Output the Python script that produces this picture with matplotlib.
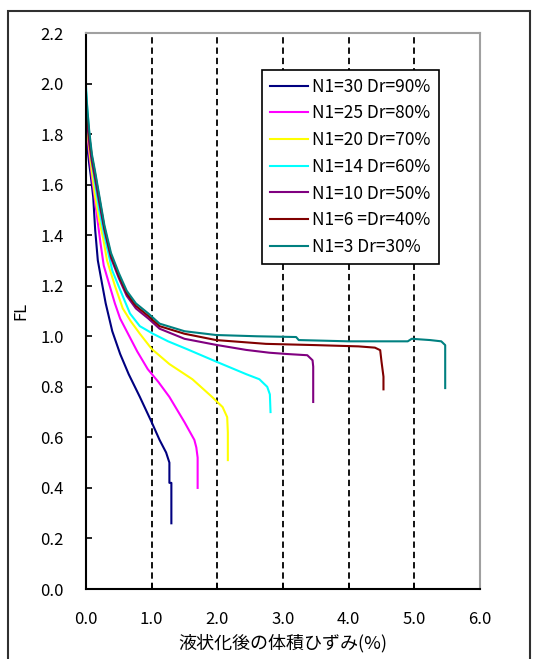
import numpy as np
import matplotlib.pyplot as plt
from matplotlib.patches import Rectangle

plt.rcParams['font.family'] = ['Noto Sans CJK JP', 'DejaVu Sans']

# 体積ひずみ(%) と FL の関係 (N1, Dr ごと)
labels = ['N1=30 Dr=90%', 'N1=25 Dr=80%', 'N1=20 Dr=70%', 'N1=14 Dr=60%',
          'N1=10 Dr=50%', 'N1=6 =Dr=40%', 'N1=3 Dr=30%']
colors = ['#000080', '#ff00ff', '#ffff00', '#00ffff',
          '#800080', '#800000', '#008080']

ev_30 = [0.00, 0.02, 0.05, 0.08, 0.11, 0.14, 0.18, 0.25, 0.30, 0.40, 0.52,
         0.65, 0.82, 1.00, 1.12, 1.22, 1.27, 1.27, 1.30, 1.30]
fl_30 = [1.80, 1.75, 1.68, 1.62, 1.55, 1.42, 1.30, 1.20, 1.13, 1.02, 0.93,
         0.85, 0.76, 0.66, 0.59, 0.54, 0.50, 0.42, 0.42, 0.26]

ev_25 = [0.00, 0.02, 0.05, 0.09, 0.13, 0.18, 0.22, 0.27, 0.36, 0.44, 0.52,
         0.64, 0.78, 0.94, 1.10, 1.27, 1.50, 1.65, 1.68, 1.70, 1.70]
fl_25 = [1.85, 1.80, 1.72, 1.63, 1.55, 1.45, 1.37, 1.28, 1.20, 1.13, 1.07,
         1.01, 0.94, 0.87, 0.82, 0.76, 0.66, 0.59, 0.56, 0.52, 0.40]

ev_20 = [0.00, 0.02, 0.05, 0.09, 0.14, 0.20, 0.26, 0.32, 0.44, 0.56, 0.68,
         0.82, 1.00, 1.27, 1.62, 1.92, 2.08, 2.15, 2.16, 2.16]
fl_20 = [1.88, 1.82, 1.74, 1.65, 1.55, 1.46, 1.39, 1.30, 1.20, 1.11, 1.06,
         1.01, 0.95, 0.89, 0.83, 0.76, 0.72, 0.68, 0.62, 0.51]

ev_14 = [0.00, 0.02, 0.05, 0.09, 0.14, 0.20, 0.27, 0.40, 0.51, 0.67, 0.82,
         1.02, 1.25, 1.53, 1.98, 2.44, 2.64, 2.76, 2.80, 2.81]
fl_14 = [1.99, 1.90, 1.80, 1.69, 1.60, 1.50, 1.41, 1.26, 1.19, 1.09, 1.04,
         1.01, 0.98, 0.95, 0.90, 0.85, 0.83, 0.80, 0.77, 0.70]

ev_10 = [0.00, 0.02, 0.05, 0.09, 0.14, 0.20, 0.28, 0.38, 0.50, 0.62, 0.76,
         0.95, 1.12, 1.50, 1.98, 2.44, 2.79, 3.05, 3.37, 3.45, 3.46, 3.46]
fl_10 = [1.88, 1.84, 1.76, 1.69, 1.62, 1.53, 1.42, 1.31, 1.23, 1.16, 1.11,
         1.07, 1.03, 0.99, 0.966, 0.946, 0.935, 0.93, 0.925, 0.905, 0.88, 0.74]

ev_6 = [0.00, 0.02, 0.05, 0.09, 0.14, 0.20, 0.28, 0.38, 0.50, 0.62, 0.76,
        0.95, 1.12, 1.50, 1.98, 2.74, 3.50, 4.15, 4.40, 4.48, 4.50, 4.53, 4.53]
fl_6 = [1.92, 1.87, 1.79, 1.71, 1.64, 1.55, 1.43, 1.32, 1.24, 1.17, 1.12,
        1.08, 1.04, 1.01, 0.985, 0.97, 0.965, 0.96, 0.955, 0.945, 0.90, 0.84, 0.79]

ev_3 = [0.00, 0.02, 0.05, 0.09, 0.14, 0.20, 0.28, 0.38, 0.50, 0.62, 0.76,
        0.95, 1.12, 1.50, 1.98, 2.60, 3.20, 3.24, 4.00, 4.90, 4.96, 5.24,
        5.41, 5.47, 5.47]
fl_3 = [1.97, 1.90, 1.81, 1.72, 1.65, 1.56, 1.44, 1.33, 1.25, 1.18, 1.13,
        1.09, 1.05, 1.02, 1.005, 1.00, 0.997, 0.985, 0.98, 0.98, 0.99, 0.985,
        0.98, 0.965, 0.795]

series = [(ev_30, fl_30), (ev_25, fl_25), (ev_20, fl_20), (ev_14, fl_14),
          (ev_10, fl_10), (ev_6, fl_6), (ev_3, fl_3)]

x_ticks = np.arange(0, 6.01, 1.0)
y_ticks = np.arange(0, 2.21, 0.2)
grid_x = [1, 2, 3, 4, 5]

fig = plt.figure(figsize=(5.35, 6.59), dpi=100)
ax = fig.add_axes([86 / 535, 70 / 659, 394 / 535, 556 / 659])

# 外枠
fig.patches.append(Rectangle((8 / 535, -0.05), 522 / 535, 0.05 + 648 / 659,
                             transform=fig.transFigure, fill=False,
                             edgecolor='#303030', linewidth=1.5))

for gx in grid_x:
    ax.axvline(gx, color='black', linewidth=1.3, linestyle=(0, (3.5, 2.2)), zorder=1)

for (ev, fl), lab, col in zip(series, labels, colors):
    ax.plot(ev, fl, color=col, linewidth=1.5, label=lab, zorder=2)

ax.set_xlim(0, 6)
ax.set_ylim(0, 2.2)
ax.set_xticks(x_ticks)
ax.set_yticks(y_ticks)
ax.set_xticklabels([f'{v:.1f}' for v in x_ticks])
ax.set_yticklabels([f'{v:.1f}' for v in y_ticks])
ax.tick_params(axis='both', direction='in', length=4, width=1.2,
               labelsize=12, pad=16, color='black')

for side in ['left', 'bottom']:
    ax.spines[side].set_color('black')
    ax.spines[side].set_linewidth(1.5)
for side in ['top', 'right']:
    ax.spines[side].set_color('#a0a0a0')
    ax.spines[side].set_linewidth(1.5)

ax.set_xlabel('液状化後の体積ひずみ(%)', fontsize=13, labelpad=4)
ax.set_ylabel('FL', fontsize=12, labelpad=8)

leg = ax.legend(loc='upper left', bbox_to_anchor=(262 / 535, 589 / 659),
                bbox_transform=fig.transFigure, borderaxespad=0,
                fontsize=12.5, frameon=True, fancybox=False, framealpha=1,
                edgecolor='black', handlelength=2.2, handletextpad=0.25,
                labelspacing=0.5, borderpad=0.45)
leg.get_frame().set_linewidth(1.2)

fig.savefig('out.png', dpi=100)
